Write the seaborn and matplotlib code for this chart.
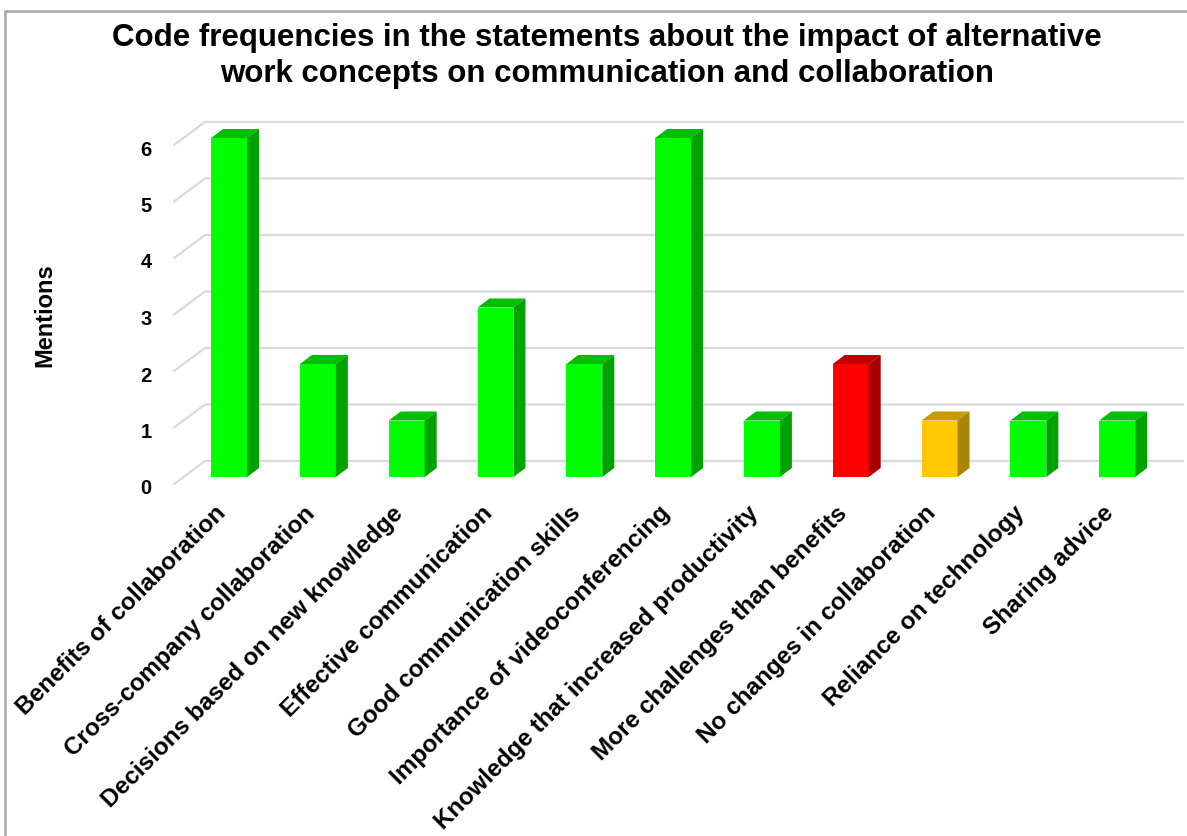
import matplotlib
matplotlib.use("Agg")
import matplotlib.pyplot as plt
from matplotlib.patches import Polygon, Rectangle
from matplotlib.lines import Line2D
from matplotlib.transforms import ScaledTranslation
import seaborn as sns
import pandas as pd

categories = [
    "Benefits of collaboration",
    "Cross-company collaboration",
    "Decisions based on new knowledge",
    "Effective communication",
    "Good communication skills",
    "Importance of videoconferencing",
    "Knowledge that increased productivity",
    "More challenges than benefits",
    "No changes in collaboration",
    "Reliance on technology",
    "Sharing advice",
]
mentions = [6, 2, 1, 3, 2, 6, 1, 2, 1, 1, 1]
tone = ["positive", "positive", "positive", "positive", "positive", "positive",
        "positive", "negative", "neutral", "positive", "positive"]
y_ticks = [0, 1, 2, 3, 4, 5, 6]

# front / top / side shades for the box faces
front = {"positive": "#00FF00", "negative": "#FF0000", "neutral": "#FFC800"}
top = {"positive": "#00BE00", "negative": "#C00000", "neutral": "#C89A00"}
side = {"positive": "#00A200", "negative": "#A80000", "neutral": "#A88400"}

sns.set_theme(style="white")
plt.rcParams["font.family"] = ["Liberation Sans", "DejaVu Sans"]
plt.rcParams["text.color"] = "black"
plt.rcParams["xtick.color"] = "black"
plt.rcParams["ytick.color"] = "black"

W, H, DPI = 1187, 836, 100
fig = plt.figure(figsize=(W / DPI, H / DPI), dpi=DPI)
fig.patch.set_facecolor("white")

# axes box in pixels (bar plane)
px_left, px_right = 174, 1166
px_top, px_bottom = 138, 477
ax = fig.add_axes([px_left / W, 1 - px_bottom / H,
                   (px_right - px_left) / W, (px_bottom - px_top) / H])
ax.set_facecolor("none")

df = pd.DataFrame({"code": categories, "mentions": mentions, "tone": tone})
sns.barplot(data=df, x="code", y="mentions", hue="tone", palette=front,
            width=0.405, dodge=False, legend=False, ax=ax, zorder=3,
            saturation=1, edgecolor="none", linewidth=0)
ax.set_xlim(-0.62, 10.55)
ax.set_ylim(0, 6)
ax.grid(False)
for s in ax.spines.values():
    s.set_visible(False)
ax.set_xlabel("")
ax.set_ylabel("")

fig.canvas.draw()

# depth offsets in pixels (display coords, y up)
bar_dx, bar_dy = 12, 9
wall_dy = 16        # back wall relative to bar plane
front_dy = -7       # tick plane relative to bar plane

grid_x_front, grid_x_back, grid_x_end = 174, 205, 1183
for yv in y_ticks:
    _, yd = ax.transData.transform((0, yv))
    line = Line2D([grid_x_front, grid_x_back, grid_x_end],
                  [yd + front_dy, yd + wall_dy, yd + wall_dy],
                  transform=None, color="#D9D9D9", lw=1.6, zorder=1,
                  clip_on=False)
    ax.add_artist(line)

# extrude every bar into a box
for patch in ax.patches:
    idx = int(round(patch.get_x() + patch.get_width() / 2))
    t = tone[idx]
    bb = patch.get_window_extent()
    x0, x1, y0, y1 = bb.x0, bb.x1, bb.y0, bb.y1
    top_face = Polygon([(x0, y1), (x0 + bar_dx, y1 + bar_dy),
                        (x1 + bar_dx, y1 + bar_dy), (x1, y1)],
                       closed=True, transform=None, facecolor=top[t],
                       edgecolor="none", zorder=4, clip_on=False)
    side_face = Polygon([(x1, y0), (x1 + bar_dx, y0 + bar_dy),
                         (x1 + bar_dx, y1 + bar_dy), (x1, y1)],
                        closed=True, transform=None, facecolor=side[t],
                        edgecolor="none", zorder=4, clip_on=False)
    ax.add_artist(top_face)
    ax.add_artist(side_face)
    patch.set_facecolor(front[t])
    patch.set_edgecolor(front[t])

# tick labels
ax.set_yticks(y_ticks)
ax.set_yticklabels([str(v) for v in y_ticks], fontsize=14.5, fontweight="bold")
ax.tick_params(axis="y", length=0, pad=16)
for lab in ax.get_yticklabels():
    lab.set_transform(lab.get_transform() + ScaledTranslation(0, -0.10, fig.dpi_scale_trans))

ax.set_xticks(range(len(categories)))
ax.set_xticklabels(categories, fontsize=17.5, fontweight="bold", rotation=45,
                   ha="right", va="top", rotation_mode="anchor")
ax.tick_params(axis="x", length=0, pad=17)
for lab in ax.get_xticklabels():
    lab.set_transform(lab.get_transform() + ScaledTranslation(-0.15, -0.01, fig.dpi_scale_trans))

fig.text(45 / W, 1 - 315 / H, "Mentions", rotation=90, ha="center", va="center",
         fontsize=17, fontweight="bold")

fig.text(607 / W, 1 - 56 / H,
         "Code frequencies in the statements about the impact of alternative\n"
         "work concepts on communication and collaboration",
         ha="center", va="center", fontsize=22.5, fontweight="bold", linespacing=1.25)

# outer frame
fig.add_artist(Rectangle((5 / W, -0.05), 1.2, 1 - 11 / H + 0.05,
                         transform=fig.transFigure, fill=False,
                         edgecolor="#A6A6A6", lw=1.8, zorder=0))

fig.savefig("out.png", dpi=DPI)
